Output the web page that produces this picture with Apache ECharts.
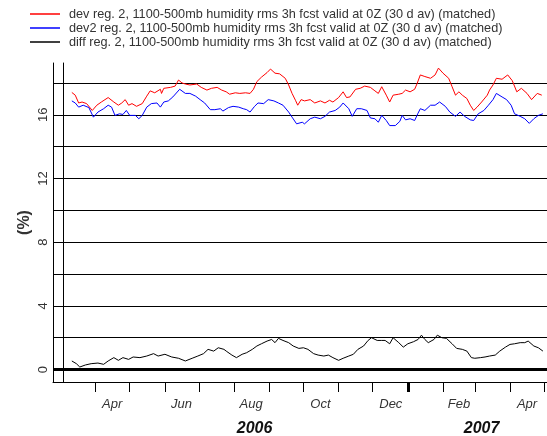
<!DOCTYPE html>
<html>
<head>
<meta charset="utf-8">
<script src="https://cdn.jsdelivr.net/npm/echarts@6/dist/echarts.min.js"></script>
<style>
  html, body { margin: 0; padding: 0; background: #fff; }
  #container { width: 547px; height: 436px; }
</style>
</head>
<body>
<div id="container"></div>
<script>
// x values are days counted from 2006-03-01
var monthStarts = [31, 61, 92, 122, 153, 184, 214, 245, 275, 306, 337, 365, 396, 426];
var monthLabelDays = [45.5, 106.5, 168, 229, 291, 351, 411];
var monthLabels = ['Apr', 'Jun', 'Aug', 'Oct', 'Dec', 'Feb', 'Apr'];
var yearLabelDays = [171, 371];
var yearLabels = ['2006', '2007'];
var yearStarts = [306];
var yGrid = [0, 2, 4, 6, 8, 10, 12, 14, 16, 18];
var yLabels = [0, 4, 8, 12, 16];

var seriesNames = [
    'dev reg. 2, 1100-500mb humidity rms 3h fcst valid at 0Z (30 d av) (matched)',
    'dev2 reg. 2, 1100-500mb humidity rms 3h fcst valid at 0Z (30 d av) (matched)',
    'diff reg. 2, 1100-500mb humidity rms 3h fcst valid at 0Z (30 d av) (matched)'
];
var seriesColors = ['#ff0000', '#0000ff', '#000000'];

var devData = [
    [10, 17.4], [13, 17.23], [16, 16.74], [19, 16.8], [23, 16.7], [28, 16.27], [32, 16.6], [36, 16.8],
    [42, 17.08], [47, 16.8], [51, 16.6], [54, 16.74], [57, 16.95], [60, 16.6], [63, 16.7], [67, 16.53],
    [72, 16.7], [76, 17.17], [79, 17.5], [83, 17.38], [88, 17.6], [89, 17.34], [91, 17.66], [97, 17.72],
    [101, 17.8], [104, 18.18], [107, 18.0], [110, 17.93], [114, 17.87], [120, 17.93], [124, 17.72],
    [129, 17.55], [133, 17.66], [138, 17.72], [142, 17.55], [146, 17.44], [149, 17.29], [154, 17.38],
    [158, 17.34], [163, 17.38], [167, 17.34], [170, 17.6], [173, 18.08], [177, 18.36], [182, 18.65],
    [185, 18.87], [189, 18.61], [193, 18.57], [198, 18.29], [201, 17.87], [204, 17.34], [207, 16.91],
    [209, 16.6], [212, 16.95], [215, 16.87], [220, 16.95], [224, 16.74], [229, 16.87], [233, 16.74],
    [237, 16.91], [240, 16.8], [245, 17.08], [249, 17.44], [252, 17.08], [255, 17.12], [260, 17.6],
    [264, 17.66], [268, 17.8], [273, 17.72], [277, 17.5], [280, 17.34], [283, 17.76], [287, 17.23],
    [290, 16.8], [293, 17.23], [298, 17.29], [301, 17.34], [304, 17.55], [308, 17.44], [312, 17.6],
    [314, 17.93], [317, 18.5], [321, 18.4], [326, 18.29], [330, 18.5], [333, 18.93], [337, 18.61],
    [342, 18.29], [345, 17.76], [348, 17.23], [351, 17.44], [354, 17.23], [358, 17.02], [361, 16.6],
    [364, 16.27], [367, 16.48], [371, 16.8], [376, 17.23], [378, 17.55], [381, 17.87], [384, 18.29],
    [389, 18.23], [394, 18.5], [398, 18.14], [402, 17.44], [406, 17.66], [411, 17.34], [415, 16.95],
    [420, 17.34], [424, 17.23]
];

var dev2Data = [
    [10, 16.87], [13, 16.74], [16, 16.48], [20, 16.6], [25, 16.45], [29, 15.85], [33, 16.17], [38, 16.38],
    [42, 16.6], [45, 16.48], [48, 15.96], [52, 16.06], [55, 16.02], [58, 16.27], [61, 15.96], [66, 15.96],
    [69, 15.75], [72, 15.96], [76, 16.48], [80, 16.7], [85, 16.74], [88, 16.48], [91, 16.8], [95, 16.87],
    [99, 17.12], [105, 17.6], [110, 17.34], [114, 17.34], [119, 17.17], [123, 16.95], [127, 16.74],
    [132, 16.32], [136, 16.32], [141, 16.38], [143, 16.23], [148, 16.45], [152, 16.53], [157, 16.48],
    [161, 16.38], [164, 16.32], [167, 16.17], [171, 16.53], [174, 16.74], [179, 16.7], [183, 16.95],
    [188, 16.87], [192, 16.74], [196, 16.6], [201, 16.17], [204, 15.85], [208, 15.43], [213, 15.53],
    [215, 15.43], [220, 15.75], [224, 15.85], [229, 15.75], [233, 15.9], [237, 16.17], [242, 16.27],
    [246, 16.48], [249, 16.74], [254, 16.38], [257, 15.9], [261, 16.38], [265, 16.38], [270, 16.27],
    [273, 15.8], [277, 15.75], [280, 15.53], [283, 15.96], [287, 15.64], [290, 15.32], [295, 15.32],
    [299, 15.59], [301, 15.96], [304, 15.68], [308, 15.75], [312, 15.64], [315, 16.1], [317, 16.38],
    [321, 16.27], [326, 16.6], [330, 16.6], [334, 16.8], [339, 16.53], [343, 16.17], [348, 15.9],
    [352, 16.17], [356, 15.9], [361, 15.68], [364, 15.64], [368, 16.06], [373, 16.27], [377, 16.6],
    [381, 16.95], [384, 17.34], [389, 17.12], [393, 16.95], [397, 16.6], [400, 16.06], [405, 15.9],
    [409, 15.75], [413, 15.46], [417, 15.75], [421, 15.96], [425, 16.06]
];

var diffData = [
    [10, 0.54], [14, 0.37], [17, 0.16], [22, 0.29], [27, 0.37], [33, 0.41], [38, 0.33], [42, 0.54],
    [47, 0.75], [51, 0.58], [55, 0.75], [60, 0.64], [64, 0.79], [70, 0.75], [76, 0.85], [82, 1.0],
    [86, 0.85], [92, 0.96], [98, 0.79], [104, 0.71], [110, 0.54], [116, 0.71], [121, 0.85], [126, 1.0],
    [130, 1.27], [135, 1.16], [139, 1.37], [144, 1.27], [146, 1.16], [151, 0.91], [155, 0.75], [160, 0.96],
    [164, 1.06], [169, 1.27], [173, 1.48], [177, 1.62], [182, 1.79], [186, 1.89], [189, 1.69], [192, 1.96],
    [196, 1.83], [201, 1.69], [205, 1.48], [210, 1.33], [214, 1.37], [218, 1.27], [223, 1.0], [227, 0.91],
    [232, 0.85], [236, 0.91], [240, 0.75], [245, 0.58], [249, 0.71], [254, 0.85], [258, 0.96], [262, 1.27],
    [267, 1.48], [271, 1.83], [274, 2.0], [279, 1.83], [283, 1.83], [286, 1.83], [290, 1.62], [293, 2.0],
    [298, 1.69], [302, 1.41], [306, 1.62], [311, 1.75], [315, 1.89], [318, 2.16], [321, 1.89], [324, 1.69],
    [329, 1.89], [332, 2.16], [336, 2.0], [340, 1.96], [345, 1.62], [349, 1.33], [354, 1.27], [358, 1.16],
    [362, 0.75], [365, 0.71], [370, 0.75], [374, 0.79], [378, 0.85], [383, 0.91], [387, 1.16], [392, 1.41],
    [396, 1.58], [400, 1.62], [405, 1.69], [409, 1.69], [412, 1.79], [417, 1.48], [421, 1.37], [425, 1.16]
];

var xMin = -6.6, xMax = 428.6;
var yMin = -0.78, yMax = 19.25;

var dom = document.getElementById('container');
var myChart = echarts.init(dom, null, { renderer: 'canvas' });

// extra x axes only carry year labels / the thick year tick
function plainX(extra) {
    var ax = {
        type: 'value',
        position: 'bottom',
        min: xMin,
        max: xMax,
        axisLine: { show: false, onZero: false },
        axisTick: { show: false },
        axisLabel: { show: false },
        splitLine: { show: false }
    };
    for (var k in extra) ax[k] = extra[k];
    return ax;
}

var option = {
    animation: false,
    backgroundColor: '#ffffff',
    textStyle: { fontFamily: 'Liberation Sans, Arial, sans-serif' },
    legend: {
        orient: 'vertical',
        left: 25,
        top: 2,
        icon: 'rect',
        itemWidth: 30,
        itemHeight: 1.5,
        itemGap: 0,
        textStyle: { fontSize: 12.7, lineHeight: 14, color: '#333', padding: [0, 0, 0, 4] },
        data: seriesNames
    },
    grid: {
        left: 53,
        right: 0,
        top: 63,
        bottom: 54,
        outerBoundsMode: 'none'
    },
    xAxis: [
        {
            type: 'value',
            position: 'bottom',
            min: xMin,
            max: xMax,
            axisLine: { show: true, onZero: false, lineStyle: { color: '#000', width: 1 } },
            axisTick: { show: true, inside: false, length: 10, customValues: monthStarts, lineStyle: { color: '#000', width: 1 } },
            axisLabel: {
                customValues: monthLabelDays,
                margin: 16,
                fontSize: 13,
                fontStyle: 'italic',
                color: '#333',
                formatter: function (v) {
                    var i = monthLabelDays.indexOf(v);
                    return i >= 0 ? monthLabels[i] : '';
                }
            },
            splitLine: { show: false }
        },
        plainX({
            axisLabel: {
                customValues: yearLabelDays,
                margin: 39,
                fontSize: 16,
                fontStyle: 'italic',
                fontWeight: 'bold',
                color: '#111',
                formatter: function (v) {
                    var i = yearLabelDays.indexOf(v);
                    return i >= 0 ? yearLabels[i] : '';
                }
            }
        }),
        plainX({
            axisTick: { show: true, length: 10, customValues: yearStarts, lineStyle: { color: '#000', width: 3 } }
        })
    ],
    yAxis: [
        {
            type: 'value',
            position: 'left',
            min: yMin,
            max: yMax,
            name: '(%)',
            nameLocation: 'middle',
            nameRotate: 90,
            nameGap: 20,
            nameMoveOverlap: false,
            nameTextStyle: { fontSize: 16, fontWeight: 'bold', color: '#333' },
            axisLine: { show: true, onZero: false, lineStyle: { color: '#000', width: 1 } },
            axisTick: { show: false, customValues: yGrid },
            axisLabel: {
                customValues: yLabels,
                rotate: 90,
                margin: 3,
                fontSize: 13,
                color: '#333'
            },
            splitLine: { show: true, lineStyle: { color: '#000', width: 1 } }
        },
        {
            type: 'value',
            position: 'left',
            offset: -10,
            min: yMin,
            max: yMax,
            axisLine: { show: true, onZero: false, lineStyle: { color: '#000', width: 1 } },
            axisTick: { show: false },
            axisLabel: { show: false },
            splitLine: { show: false }
        }
    ],
    series: [
        {
            name: seriesNames[0],
            type: 'line',
            symbol: 'none',
            color: seriesColors[0],
            lineStyle: { width: 1 },
            data: devData
        },
        {
            name: seriesNames[1],
            type: 'line',
            symbol: 'none',
            color: seriesColors[1],
            lineStyle: { width: 1 },
            data: dev2Data
        },
        {
            name: seriesNames[2],
            type: 'line',
            symbol: 'none',
            color: seriesColors[2],
            lineStyle: { width: 1 },
            data: diffData,
            markLine: {
                silent: true,
                symbol: ['none', 'none'],
                label: { show: false },
                lineStyle: { color: '#000', width: 3, type: 'solid' },
                data: [{ yAxis: 0 }]
            }
        }
    ]
};

myChart.setOption(option);
window.addEventListener('resize', myChart.resize);
</script>
</body>
</html>
